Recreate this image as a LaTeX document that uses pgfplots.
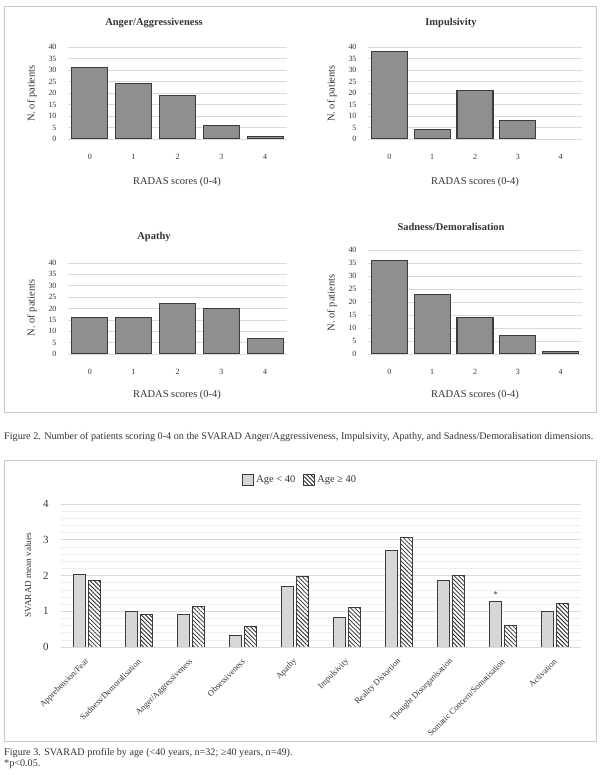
\documentclass[border=0pt]{standalone}
\usepackage{fontspec}
\setmainfont{Liberation Serif}
\usepackage{pgfplots}
\pgfplotsset{compat=1.18}
\usetikzlibrary{patterns.meta}

\definecolor{barfill}{HTML}{8F8F8F}
\definecolor{baredge}{HTML}{3C3C3C}
\definecolor{lightbar}{HTML}{D6D6D6}
\definecolor{gridgray}{HTML}{DADADA}
\definecolor{minorgray}{HTML}{EEEEEE}
\definecolor{framegray}{HTML}{C8C8C8}
\definecolor{txt}{HTML}{333333}

\newcommand{\fs}[1]{\fontsize{#1}{#1}\selectfont}

% shared look of the four RADAS histograms
\pgfplotsset{
  radas/.style={
    scale only axis, anchor=south west,
    ybar, bar width=36bp,
    xmin=-0.5, xmax=4.5, xtick={0,...,4},
    ymin=0, ymax=40, ytick={0,5,...,40},
    ymajorgrids, grid style={gridgray, line width=0.7bp},
    axis line style={draw=none},
    major tick length=0pt,
    /pgf/number format/assume math mode=true,
    tick label style={font=\fs{8}, text=txt},
    yticklabel style={xshift=-8bp},
    xticklabel style={yshift=-12bp},
  },
  radasbar/.style={fill=barfill, draw=baredge, line width=1.1bp},
}

\begin{document}
\begin{tikzpicture}
\useasboundingbox (0,0) rectangle (600bp,775bp);

% frames
\draw[framegray, line width=1bp] (4bp,362bp) rectangle (596bp,768bp);
\draw[framegray, line width=1bp] (4bp,33bp) rectangle (596bp,314bp);

% ---- Figure 2 ----
\begin{axis}[radas, at={(68bp,636bp)}, width=219bp, height=92bp]
\addplot[radasbar] coordinates {(0,31) (1,24) (2,19) (3,6) (4,1)};
\end{axis}

\begin{axis}[radas, at={(368bp,636bp)}, width=214bp, height=92bp]
\addplot[radasbar] coordinates {(0,38) (1,4) (2,21) (3,8)};
\end{axis}

\begin{axis}[radas, at={(68bp,421bp)}, width=219bp, height=91bp]
\addplot[radasbar] coordinates {(0,16) (1,16) (2,22) (3,20) (4,7)};
\end{axis}

\begin{axis}[radas, at={(368bp,421bp)}, width=214bp, height=104bp]
\addplot[radasbar] coordinates {(0,36) (1,23) (2,14) (3,7) (4,1)};
\end{axis}

\begin{scope}[every node/.style={text=txt}]
\node[font=\bfseries\fs{10.5}] at (154bp,752bp) {Anger/Aggressiveness};
\node[font=\bfseries\fs{10.5}] at (451bp,752bp) {Impulsivity};
\node[font=\bfseries\fs{10.5}] at (154bp,538bp) {Apathy};
\node[font=\bfseries\fs{10.5}] at (451bp,548bp) {Sadness/Demoralisation};

\node[font=\fs{10.5}, rotate=90] at (32bp,681.5bp) {N. of patients};
\node[font=\fs{10.5}, rotate=90] at (332bp,681.5bp) {N. of patients};
\node[font=\fs{10.5}, rotate=90] at (32bp,467bp) {N. of patients};
\node[font=\fs{10.5}, rotate=90] at (332bp,472bp) {N. of patients};

\node[font=\fs{10.5}] at (177bp,593bp) {RADAS scores (0-4)};
\node[font=\fs{10.5}] at (475bp,593bp) {RADAS scores (0-4)};
\node[font=\fs{10.5}] at (177bp,380bp) {RADAS scores (0-4)};
\node[font=\fs{10.5}] at (475bp,380bp) {RADAS scores (0-4)};

\node[font=\fs{10.2}, anchor=west, inner sep=0pt] at (4bp,338bp)
  {Figure 2. Number of patients scoring 0-4 on the SVARAD Anger/Aggressiveness, Impulsivity, Apathy, and Sadness/Demoralisation dimensions.};
\end{scope}

% ---- Figure 3 ----
\begin{axis}[
  scale only axis, anchor=south west, at={(61bp,128bp)},
  width=520bp, height=143bp,
  ybar=3bp, bar width=12bp,
  xmin=-0.5, xmax=9.5, xtick={0,...,9},
  xticklabels={Apprehension/Fear, Sadness/Demoralisation, Anger/Aggressiveness,
    Obsessiveness, Apathy, Impulsivity, Reality Distortion,
    Thought Disorganisation, Somatic Concern/Somatisation, Activation},
  ymin=0, ymax=4, ytick={0,...,4}, minor y tick num=4,
  ymajorgrids, yminorgrids,
  major grid style={gridgray, line width=0.7bp},
  minor grid style={minorgray, line width=0.5bp},
  axis line style={draw=none},
  major tick length=0pt, minor tick length=0pt,
  /pgf/number format/assume math mode=true,
  yticklabel style={font=\fs{11}, text=txt, xshift=-9bp},
  xticklabel style={font=\fs{8.5}, text=txt, yshift=-11bp, xshift=3bp, rotate=45, anchor=east},
  legend columns=2,
  legend style={at={(0.46,1.168)}, anchor=center, draw=none, fill=none,
    font=\fs{10.5}, text=txt,
    /tikz/every even column/.append style={column sep=6bp}},
  legend image code/.code={\draw[#1] (0bp,-5.5bp) rectangle (11bp,5.5bp);},
]
\addplot[fill=lightbar, draw=baredge, line width=1bp] coordinates {
  (0,2.04) (1,1.00) (2,0.91) (3,0.32) (4,1.70)
  (5,0.82) (6,2.70) (7,1.85) (8,1.28) (9,0.98)};
\addlegendentry{Age < 40}
\addplot[preaction={fill=white}, pattern={Lines[angle=-45, distance=3bp, line width=0.8bp]},
  pattern color=black!85, draw=baredge, line width=1bp] coordinates {
  (0,1.86) (1,0.91) (2,1.13) (3,0.56) (4,1.96)
  (5,1.11) (6,3.06) (7,1.99) (8,0.61) (9,1.21)};
\addlegendentry{Age ≥ 40}
\node[anchor=south, xshift=-7.5bp, font=\fs{9}, text=txt] at (axis cs:8,1.28) {*};
\end{axis}

\node[font=\fs{9.2}, rotate=90, text=txt] at (28bp,200bp) {SVARAD mean values};
\node[font=\fs{10.2}, anchor=west, inner sep=0pt, text=txt] at (4bp,22bp)
  {Figure 3. SVARAD profile by age (<40 years, n=32; ≥40 years, n=49).};
\node[font=\fs{10.2}, anchor=west, inner sep=0pt, text=txt] at (4bp,11bp) {*p<0.05.};
\end{tikzpicture}
\end{document}
